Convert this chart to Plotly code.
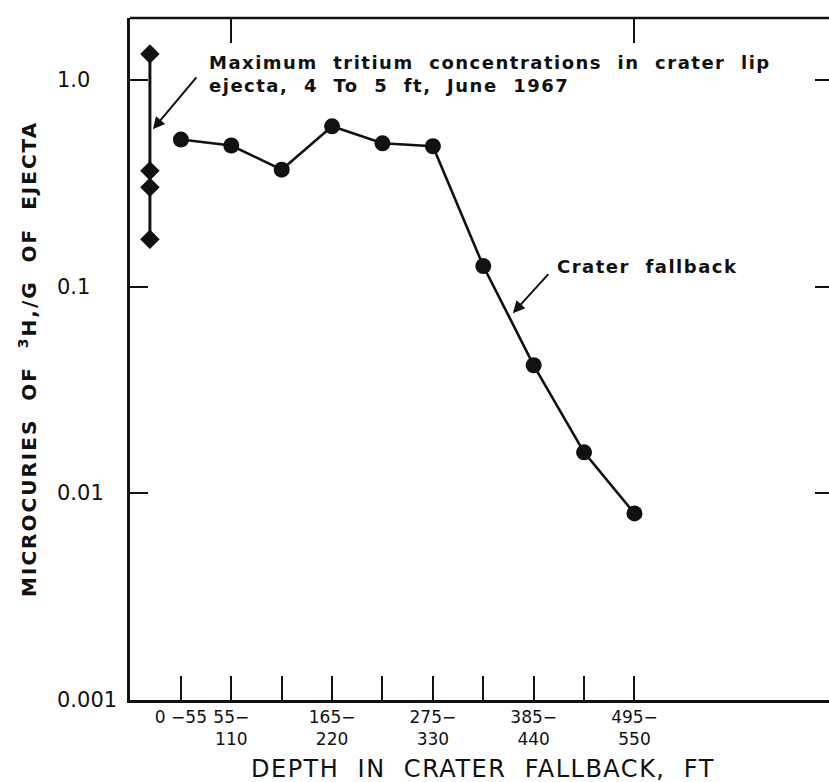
import math
import plotly.graph_objects as go

# Depth intervals in the crater fallback (ft) and tritium concentrations (µCi 3H / g)
depth_pos = [1, 2, 3, 4, 5, 6, 7, 8, 9, 10]
fallback_conc = [0.516, 0.483, 0.369, 0.598, 0.495, 0.479, 0.126, 0.0417, 0.0158, 0.0080]

# Maximum concentrations in crater lip ejecta (4 to 5 ft, June 1967)
lip_pos = [0.385, 0.385, 0.385, 0.385]
lip_conc = [1.34, 0.364, 0.303, 0.170]

depth_labels = ["0 \u221255", "55\u2212<br>110", " ", "165\u2212<br>220", " ",
                "275\u2212<br>330", " ", "385\u2212<br>440", " ", "495\u2212<br>550"]
top_tick_pos = [2, 10]

y_tick_vals = [1.0, 0.1, 0.01, 0.001]
y_tick_text = ["1.0", "0.1", "0.01", "0.001"]

FONT = "DejaVu Sans"
INK = "#111111"

fig = go.Figure()

fig.add_trace(go.Scatter(
    x=lip_pos, y=lip_conc, mode="lines+markers",
    line=dict(color=INK, width=3),
    marker=dict(symbol="diamond", size=15, color=INK),
    showlegend=False,
))
fig.add_trace(go.Scatter(
    x=depth_pos, y=fallback_conc, mode="lines+markers",
    line=dict(color=INK, width=2.6),
    marker=dict(symbol="circle", size=16, color=INK),
    showlegend=False,
))
# invisible trace that carries the top and right tick marks
fig.add_trace(go.Scatter(x=[None], y=[None], xaxis="x2", yaxis="y2", showlegend=False))

x_range = [-0.01, 13.86]
y_range = [-3, math.log10(2.0)]

fig.update_layout(
    width=829, height=782,
    margin=dict(l=130, r=0, t=18, b=82),
    paper_bgcolor="white", plot_bgcolor="white",
    font=dict(family=FONT, color=INK),
    xaxis=dict(
        range=x_range, showgrid=False, zeroline=False,
        showline=True, linecolor=INK, linewidth=2.5,
        tickmode="array", tickvals=depth_pos, ticktext=depth_labels,
        ticks="inside", ticklen=24, tickwidth=2, tickcolor=INK,
        tickfont=dict(family=FONT, size=17, color=INK),
    ),
    yaxis=dict(
        type="log", range=y_range, showgrid=False, zeroline=False,
        showline=True, linecolor=INK, linewidth=2.5,
        tickmode="array", tickvals=y_tick_vals,
        ticks="inside", ticklen=18, tickwidth=2, tickcolor=INK,
        showticklabels=False,
    ),
    xaxis2=dict(
        overlaying="x", side="top", range=x_range, showgrid=False, zeroline=False,
        showline=False, tickmode="array", tickvals=top_tick_pos,
        ticks="inside", ticklen=25, tickwidth=2, tickcolor=INK, showticklabels=False,
    ),
    yaxis2=dict(
        overlaying="y", side="right", type="log", range=y_range, showgrid=False,
        zeroline=False, showline=False, tickmode="array", tickvals=y_tick_vals[:3],
        ticks="inside", ticklen=14, tickwidth=2, tickcolor=INK, showticklabels=False,
    ),
    shapes=[dict(type="line", xref="paper", yref="paper", x0=0, x1=1, y0=1, y1=1,
                 line=dict(color=INK, width=2.5))],
)

annotations = []
# left-aligned y tick labels
for v, t in zip(y_tick_vals, y_tick_text):
    annotations.append(dict(
        x=-0.107, xref="paper", y=math.log10(v), yref="y", text=t,
        xanchor="left", yanchor="middle", showarrow=False,
        font=dict(family=FONT, size=21, color=INK),
    ))

annotations += [
    dict(text="<span style='letter-spacing:2px'>MICROCURIES  OF  <sup>3</sup>H,/G  OF  EJECTA</span>",
         textangle=-90,
         x=-0.146, xref="paper", y=0.50, yref="paper", xanchor="center", yanchor="middle",
         showarrow=False, font=dict(family=FONT, size=20, color=INK, weight="bold")),
    dict(text="<span style='letter-spacing:1.5px'>DEPTH  IN  CRATER  FALLBACK,  FT</span>",
         x=0.505, xref="paper", y=-0.101, yref="paper", xanchor="center", yanchor="middle",
         showarrow=False, font=dict(family=FONT, size=24, color=INK)),
    dict(text="<span style='letter-spacing:1.5px'>Maximum  tritium  concentrations  in  crater  lip</span>"
              "<br><span style='letter-spacing:1.5px'>ejecta,  4  To  5  ft,  June  1967</span>",
         x=0.110, xref="paper", y=0.918, yref="paper", xanchor="left", yanchor="middle",
         align="left", showarrow=False,
         font=dict(family=FONT, size=18, color=INK, weight="bold")),
    dict(text="<span style='letter-spacing:1.5px'>Crater  fallback</span>",
         x=0.608, xref="paper", y=0.636, yref="paper", xanchor="left", yanchor="middle",
         showarrow=False, font=dict(family=FONT, size=18, color=INK, weight="bold")),
    # leader arrows
    dict(text=" ", x=0.444, y=math.log10(0.579), xref="x", yref="y",
         ax=47, ay=-56, showarrow=True, arrowhead=2, arrowsize=1.2, arrowwidth=2,
         arrowcolor=INK),
    dict(text=" ", x=7.587, y=math.log10(0.0745), xref="x", yref="y",
         ax=39, ay=-43, showarrow=True, arrowhead=2, arrowsize=1.2, arrowwidth=2,
         arrowcolor=INK),
]
fig.update_layout(annotations=annotations)

fig.write_html("out.html")
